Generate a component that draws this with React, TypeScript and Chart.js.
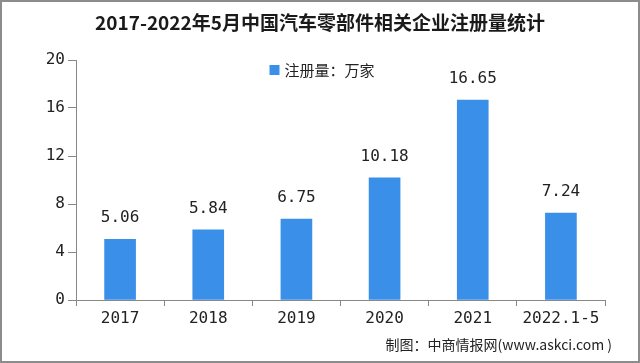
import React, { useEffect, useRef } from "react";
import { Chart, registerables } from "chart.js";

Chart.register(...registerables);

const categories = ["2017", "2018", "2019", "2020", "2021", "2022.1-5"];
const registrations = [5.06, 5.84, 6.75, 10.18, 16.65, 7.24];
const yTicks = [0, 4, 8, 12, 16, 20];
const titleText = "2017-2022年5月中国汽车零部件相关企业注册量统计";
const seriesName = "注册量：万家";
const footerText = "制图：中商情报网(www.askci.com )";

const BAR = "#3a8fe8";
const CJK = "'Noto Sans CJK SC', sans-serif";
const NUM = "'DejaVu Sans Mono', monospace";

const decorPlugin = {
  id: "decor",
  afterDraw(chart: any) {
    const { ctx } = chart;
    ctx.save();
    // border
    ctx.strokeStyle = "#8c8c8c";
    ctx.lineWidth = 2;
    ctx.strokeRect(1, 1, 638, 361);
    // title
    ctx.fillStyle = "#1a1a1a";
    ctx.font = `bold 19px ${CJK}`;
    ctx.textAlign = "center";
    ctx.textBaseline = "middle";
    ctx.fillText(titleText, 320, 23);
    // legend
    ctx.font = `15px ${CJK}`;
    const tw = ctx.measureText(seriesName).width;
    const total = 10 + 5 + tw;
    const x0 = 322 - total / 2;
    ctx.fillStyle = BAR;
    ctx.fillRect(x0, 65, 10, 10);
    ctx.fillStyle = "#222";
    ctx.textAlign = "left";
    ctx.fillText(seriesName, x0 + 15, 70);
    // footer
    ctx.font = `14px ${CJK}`;
    ctx.fillStyle = "#222";
    ctx.textAlign = "right";
    ctx.fillText(footerText, 612, 345);
    // data labels
    const meta = chart.getDatasetMeta(0);
    ctx.font = `16px ${NUM}`;
    ctx.textAlign = "center";
    ctx.textBaseline = "middle";
    ctx.fillStyle = "#222";
    meta.data.forEach((el: any, i: number) => {
      ctx.fillText(registrations[i].toFixed(2), el.x, el.y - 21);
    });
    ctx.restore();
  },
};

export default function App() {
  const ref = useRef<HTMLCanvasElement>(null);
  useEffect(() => {
    const chart = new Chart(ref.current!, {
      type: "bar",
      data: {
        labels: categories,
        datasets: [
          {
            label: seriesName,
            data: registrations,
            backgroundColor: BAR,
            barThickness: 31,
          },
        ],
      },
      options: {
        animation: false,
        responsive: false,
        devicePixelRatio: 1,
        layout: { padding: { top: 60, right: 35, left: 0, bottom: 0 } },
        plugins: { legend: { display: false }, title: { display: false }, tooltip: { enabled: false } },
        scales: {
          x: {
            offset: true,
            grid: { display: true, drawOnChartArea: false, offset: true, tickLength: 6, color: "#888" },
            border: { color: "#888" },
            ticks: { color: "#222", font: { family: NUM, size: 16 }, padding: 3 },
            afterFit(scale: any) {
              scale.height = 63;
            },
          },
          y: {
            min: 0,
            max: 20,
            afterBuildTicks(scale: any) {
              scale.ticks = yTicks.map((v) => ({ value: v }));
            },
            grid: { display: true, drawOnChartArea: false, tickLength: 8, color: "#888" },
            border: { color: "#888" },
            ticks: { color: "#222", font: { family: NUM, size: 16 }, padding: 3 },
            afterFit(scale: any) {
              scale.width = 76;
            },
          },
        },
      },
      plugins: [decorPlugin],
    });
    return () => chart.destroy();
  }, []);
  return (
    <div style={{ position: "absolute", left: 0, top: 0, width: 640, height: 363, background: "#fff" }}>
      <canvas ref={ref} width={640} height={363} />
    </div>
  );
}
